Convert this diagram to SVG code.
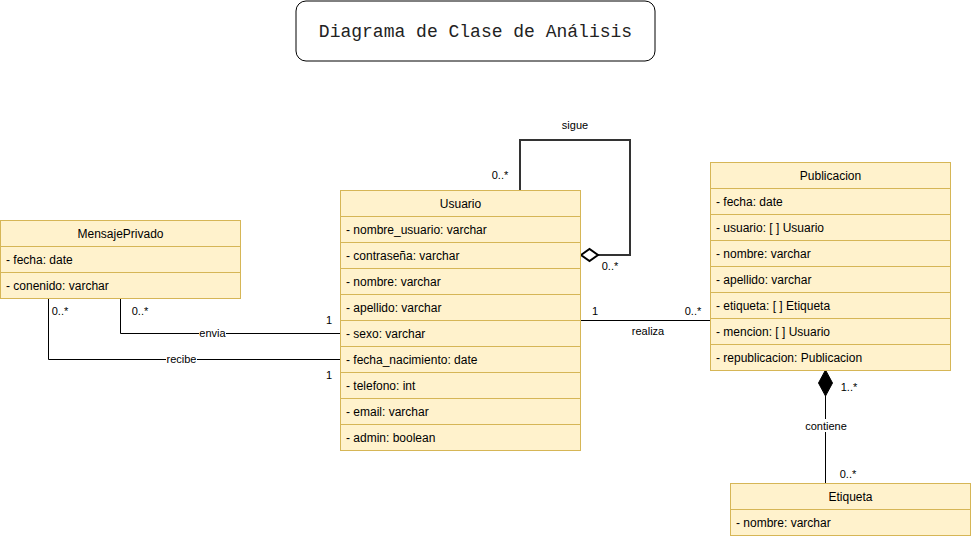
<svg xmlns="http://www.w3.org/2000/svg" width="971" height="539" viewBox="0 0 971 539">
<style>
.box{fill:#fff2cc;stroke:#d6b656;stroke-width:1}
.t{font-family:"Liberation Sans",Arial,sans-serif;font-size:12px;fill:#000}
.c{text-anchor:middle}
.lbl{font-family:"Liberation Sans",Arial,sans-serif;font-size:11px;fill:#000}
.ln{fill:none;stroke:#000;stroke-width:1}
</style>
<rect width="971" height="539" fill="#fff"/>
<g id="title">
<rect x="296" y="1" width="359" height="60" rx="10" fill="#fff" stroke="#000"/>
<text x="475.5" y="37" text-anchor="middle" font-family="'Liberation Mono','Courier New',monospace" font-size="18" fill="#222">Diagrama de Clase de Análisis</text>
</g>
<g id="connectors">
<path d="M520,190 V140 H630 V255 H598" fill="none" stroke="#333" stroke-width="2"/>
<path d="M581,255 L589.5,249 L598,255 L589.5,261 Z" fill="#fff" stroke="#000" stroke-width="2"/>
<text class="lbl" x="575" y="129" text-anchor="middle">sigue</text>
<text class="lbl" x="500" y="179" text-anchor="middle">0..*</text>
<text class="lbl" x="610" y="270" text-anchor="middle">0..*</text>
<path class="ln" d="M580,320.5 H710"/>
<text class="lbl" x="595" y="315" text-anchor="middle">1</text>
<text class="lbl" x="693" y="315" text-anchor="middle">0..*</text>
<text class="lbl" x="648" y="335" text-anchor="middle">realiza</text>
<path class="ln" d="M120.5,298 V333.5 H340"/>
<rect x="199" y="327" width="27" height="12" fill="#fff"/>
<text class="lbl" x="212.5" y="337" text-anchor="middle">envia</text>
<text class="lbl" x="140" y="315" text-anchor="middle">0..*</text>
<text class="lbl" x="329" y="324" text-anchor="middle">1</text>
<path class="ln" d="M48.5,298 V359.5 H340"/>
<rect x="166" y="353" width="31" height="12" fill="#fff"/>
<text class="lbl" x="181.5" y="363" text-anchor="middle">recibe</text>
<text class="lbl" x="60" y="315" text-anchor="middle">0..*</text>
<text class="lbl" x="329" y="379" text-anchor="middle">1</text>
<path class="ln" d="M825.5,483 V396"/>
<path d="M825.5,370 L832.5,383 L825.5,396 L818.5,383 Z" fill="#000" stroke="#000"/>
<rect x="805" y="419" width="42" height="13" fill="#fff"/>
<text class="lbl" x="826" y="430" text-anchor="middle">contiene</text>
<text class="lbl" x="849" y="391" text-anchor="middle">1..*</text>
<text class="lbl" x="848" y="478" text-anchor="middle">0..*</text>
</g>
<g id="MensajePrivado">
<rect class="box" x="0.5" y="220.5" width="240" height="26"/>
<rect class="box" x="0.5" y="246.5" width="240" height="26"/>
<rect class="box" x="0.5" y="272.5" width="240" height="26"/>
<text class="t c" x="120.5" y="237.5">MensajePrivado</text>
<text class="t" x="6" y="263.5">- fecha: date</text>
<text class="t" x="6" y="289.5">- conenido: varchar</text>
</g>
<g id="Usuario">
<rect class="box" x="340.5" y="190.5" width="240" height="26"/>
<rect class="box" x="340.5" y="216.5" width="240" height="26"/>
<rect class="box" x="340.5" y="242.5" width="240" height="26"/>
<rect class="box" x="340.5" y="268.5" width="240" height="26"/>
<rect class="box" x="340.5" y="294.5" width="240" height="26"/>
<rect class="box" x="340.5" y="320.5" width="240" height="26"/>
<rect class="box" x="340.5" y="346.5" width="240" height="26"/>
<rect class="box" x="340.5" y="372.5" width="240" height="26"/>
<rect class="box" x="340.5" y="398.5" width="240" height="26"/>
<rect class="box" x="340.5" y="424.5" width="240" height="26"/>
<text class="t c" x="460.5" y="207.5">Usuario</text>
<text class="t" x="346" y="233.5">- nombre_usuario: varchar</text>
<text class="t" x="346" y="259.5">- contraseña: varchar</text>
<text class="t" x="346" y="285.5">- nombre: varchar</text>
<text class="t" x="346" y="311.5">- apellido: varchar</text>
<text class="t" x="346" y="337.5">- sexo: varchar</text>
<text class="t" x="346" y="363.5">- fecha_nacimiento: date</text>
<text class="t" x="346" y="389.5">- telefono: int</text>
<text class="t" x="346" y="415.5">- email: varchar</text>
<text class="t" x="346" y="441.5">- admin: boolean</text>
</g>
<g id="Publicacion">
<rect class="box" x="710.5" y="162.5" width="240" height="26"/>
<rect class="box" x="710.5" y="188.5" width="240" height="26"/>
<rect class="box" x="710.5" y="214.5" width="240" height="26"/>
<rect class="box" x="710.5" y="240.5" width="240" height="26"/>
<rect class="box" x="710.5" y="266.5" width="240" height="26"/>
<rect class="box" x="710.5" y="292.5" width="240" height="26"/>
<rect class="box" x="710.5" y="318.5" width="240" height="26"/>
<rect class="box" x="710.5" y="344.5" width="240" height="26"/>
<text class="t c" x="830.5" y="179.5">Publicacion</text>
<text class="t" x="716" y="205.5">- fecha: date</text>
<text class="t" x="716" y="231.5">- usuario: [ ] Usuario</text>
<text class="t" x="716" y="257.5">- nombre: varchar</text>
<text class="t" x="716" y="283.5">- apellido: varchar</text>
<text class="t" x="716" y="309.5">- etiqueta: [ ] Etiqueta</text>
<text class="t" x="716" y="335.5">- mencion: [ ] Usuario</text>
<text class="t" x="716" y="361.5">- republicacion: Publicacion</text>
</g>
<g id="Etiqueta">
<rect class="box" x="730.5" y="483.5" width="240" height="26"/>
<rect class="box" x="730.5" y="509.5" width="240" height="26"/>
<text class="t c" x="850.5" y="500.5">Etiqueta</text>
<text class="t" x="736" y="526.5">- nombre: varchar</text>
</g>
</svg>
